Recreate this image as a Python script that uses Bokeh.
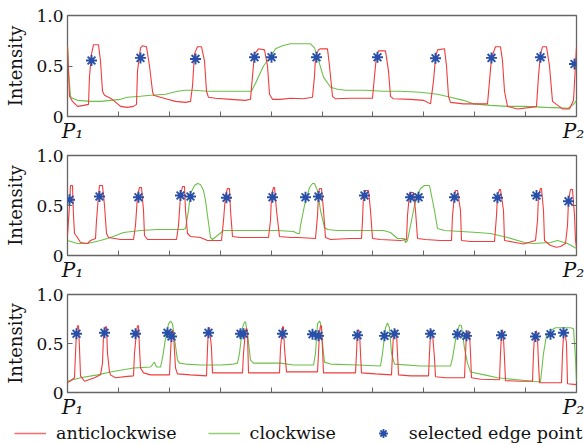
from bokeh.plotting import figure
from bokeh.models import Range1d, FixedTicker, LinearAxis, Legend, LegendItem, Plot
from bokeh.layouts import column
from bokeh.embed import file_html
from bokeh.resources import INLINE

# x: position along the profile P1 -> P2 (sample index 0..509), y: intensity
x_ticks = [50.9, 101.8, 152.7, 203.6, 254.5, 305.4, 356.3, 407.2, 458.1]
y_ticks = [0, 0.5, 1.0]
y_tick_labels = {0: "0", 0.5: "0.5", 1: "1.0"}
end_label_pos = [5, 506]
end_labels = ["P\u2081", "P\u2082"]
series_names = ["anticlockwise", "clockwise", "selected edge point"]

# ---- panel 1 ----
red1_x = [0, 2, 5, 10, 16, 21, 22, 24, 26, 31, 33, 35, 37, 43, 46, 53, 60, 66, 69, 70, 73, 75, 79, 82, 85, 86,
          93, 100, 108, 118, 123, 125, 127, 130, 134, 137, 139, 141, 148, 163, 178, 183, 185, 187, 191, 197, 200,
          202, 205, 213, 223, 236, 245, 247, 248, 251, 253, 260, 262, 265, 268, 283, 305, 307, 309, 311, 318, 321,
          323, 326, 343, 356, 363, 366, 368, 370, 377, 379, 381, 383, 396, 420, 422, 424, 428, 433, 435, 437, 440,
          450, 463, 469, 471, 473, 475, 479, 482, 485, 489, 495, 502, 506, 509]
red1_y = [0.70, 0.20, 0.15, 0.10, 0.11, 0.12, 0.40, 0.62, 0.71, 0.71, 0.55, 0.25, 0.21, 0.18, 0.16, 0.10, 0.09,
          0.10, 0.12, 0.45, 0.68, 0.70, 0.69, 0.50, 0.25, 0.21, 0.19, 0.17, 0.15, 0.14, 0.15, 0.30, 0.62, 0.69,
          0.69, 0.55, 0.25, 0.19, 0.18, 0.17, 0.16, 0.17, 0.40, 0.62, 0.67, 0.66, 0.50, 0.22, 0.17, 0.17, 0.18,
          0.175, 0.19, 0.40, 0.59, 0.66, 0.67, 0.67, 0.50, 0.20, 0.175, 0.18, 0.18, 0.40, 0.60, 0.65, 0.65, 0.45,
          0.20, 0.175, 0.17, 0.16, 0.125, 0.35, 0.58, 0.66, 0.67, 0.50, 0.20, 0.14, 0.125, 0.125, 0.35, 0.58,
          0.69, 0.69, 0.55, 0.25, 0.10, 0.075, 0.09, 0.10, 0.40, 0.62, 0.69, 0.69, 0.50, 0.15, 0.12, 0.075,
          0.075, 0.16, 0.69]
green1_x = [0, 1, 3, 5, 10, 23, 33, 43, 53, 60, 73, 83, 98, 110, 118, 126, 140, 163, 184, 188, 196, 203, 208,
            215, 223, 233, 243, 247, 250, 256, 263, 270, 278, 298, 316, 333, 353, 370, 383, 396, 406, 423, 440,
            458, 478, 493, 500, 506, 509]
green1_y = [0.70, 0.45, 0.20, 0.18, 0.16, 0.15, 0.15, 0.16, 0.17, 0.19, 0.20, 0.21, 0.22, 0.25, 0.26, 0.26,
            0.25, 0.25, 0.25, 0.33, 0.50, 0.59, 0.67, 0.70, 0.72, 0.72, 0.72, 0.68, 0.59, 0.39, 0.29, 0.27, 0.26,
            0.26, 0.25, 0.25, 0.24, 0.22, 0.19, 0.16, 0.125, 0.11, 0.10, 0.10, 0.09, 0.085, 0.08, 0.12, 0.16]
star1_x = [24, 73, 128, 187, 204, 249, 310, 368, 424, 473, 507]
star1_y = [0.554, 0.58, 0.57, 0.587, 0.587, 0.587, 0.587, 0.577, 0.58, 0.587, 0.52]

# ---- panel 2 ----
red2_x = [0, 2, 3, 5, 6, 7, 10, 13, 20, 23, 28, 29, 31, 32, 35, 37, 39, 41, 53, 66, 68, 70, 72, 74, 76, 77, 80,
          93, 109, 111, 113, 115, 117, 118, 120, 123, 133, 140, 154, 156, 158, 160, 162, 163, 165, 173, 201, 203,
          204, 206, 207, 209, 212, 223, 231, 248, 250, 251, 252, 254, 256, 258, 263, 283, 294, 295, 296, 298,
          301, 303, 305, 313, 333, 339, 340, 342, 343, 346, 348, 350, 358, 373, 384, 385, 387, 388, 390, 393,
          394, 403, 423, 427, 429, 430, 432, 433, 436, 437, 448, 456, 468, 470, 471, 473, 474, 476, 477, 483,
          489, 493, 498, 500, 501, 503, 505, 507, 508, 509]
red2_y = [0.20, 0.50, 0.70, 0.70, 0.40, 0.22, 0.18, 0.13, 0.12, 0.15, 0.17, 0.35, 0.60, 0.70, 0.70, 0.50, 0.22,
          0.18, 0.16, 0.16, 0.30, 0.60, 0.68, 0.68, 0.45, 0.20, 0.16, 0.16, 0.16, 0.30, 0.60, 0.69, 0.69, 0.45,
          0.22, 0.19, 0.18, 0.15, 0.15, 0.35, 0.60, 0.67, 0.67, 0.45, 0.19, 0.18, 0.18, 0.35, 0.60, 0.68, 0.68,
          0.45, 0.19, 0.18, 0.18, 0.17, 0.40, 0.60, 0.67, 0.67, 0.45, 0.18, 0.16, 0.17, 0.17, 0.35, 0.60, 0.65,
          0.65, 0.45, 0.17, 0.16, 0.15, 0.16, 0.40, 0.62, 0.63, 0.63, 0.45, 0.17, 0.16, 0.15, 0.15, 0.40, 0.60,
          0.65, 0.65, 0.45, 0.15, 0.14, 0.14, 0.14, 0.40, 0.60, 0.66, 0.66, 0.45, 0.15, 0.13, 0.115, 0.15, 0.35,
          0.60, 0.67, 0.67, 0.45, 0.15, 0.10, 0.083, 0.09, 0.12, 0.30, 0.55, 0.66, 0.66, 0.40, 0.15, 0.08]
green2_x = [0, 10, 20, 33, 43, 56, 73, 90, 116, 118, 121, 123, 127, 130, 133, 136, 138, 140, 143, 145, 150, 156,
            183, 210, 226, 230, 232, 233, 237, 242, 245, 247, 250, 253, 257, 260, 270, 316, 323, 330, 337, 338,
            340, 343, 347, 350, 353, 357, 362, 364, 367, 370, 377, 410, 423, 440, 457, 466, 483, 490, 500, 509]
green2_y = [0.15, 0.12, 0.12, 0.15, 0.18, 0.23, 0.25, 0.26, 0.26, 0.27, 0.45, 0.62, 0.70, 0.72, 0.71, 0.65, 0.55,
            0.40, 0.18, 0.16, 0.20, 0.25, 0.25, 0.25, 0.24, 0.22, 0.22, 0.30, 0.50, 0.68, 0.72, 0.72, 0.65, 0.45,
            0.28, 0.26, 0.25, 0.25, 0.23, 0.17, 0.17, 0.13, 0.15, 0.30, 0.50, 0.60, 0.67, 0.70, 0.70, 0.60, 0.45,
            0.27, 0.25, 0.23, 0.22, 0.18, 0.13, 0.12, 0.13, 0.15, 0.12, 0.07]
star2_x = [2, 32, 71, 113, 123, 159, 205, 238, 251, 297, 343, 351, 387, 430, 469, 501]
star2_y = [0.557, 0.59, 0.583, 0.60, 0.59, 0.577, 0.583, 0.583, 0.59, 0.60, 0.583, 0.583, 0.583, 0.577, 0.60,
           0.543]

# ---- panel 3 ----
red3_x = [0, 3, 7, 8, 9, 10, 11, 12, 13, 17, 27, 33, 35, 36, 38, 39, 40, 42, 43, 48, 60, 66, 67, 69, 70, 71, 72,
          73, 76, 83, 96, 102, 103, 104, 105, 106, 108, 110, 123, 139, 140, 141, 142, 144, 145, 153, 175, 176,
          178, 179, 180, 181, 188, 212, 213, 215, 216, 217, 219, 233, 250, 251, 252, 253, 254, 255, 256, 263,
          283, 288, 289, 290, 291, 292, 293, 294, 308, 324, 325, 326, 328, 329, 330, 331, 343, 361, 362, 363,
          364, 365, 367, 368, 378, 397, 398, 399, 401, 402, 403, 404, 413, 432, 433, 434, 435, 436, 437, 438,
          453, 465, 466, 467, 469, 470, 471, 472, 488, 494, 495, 496, 497, 499, 500, 509]
red3_y = [0.10, 0.12, 0.15, 0.40, 0.62, 0.68, 0.68, 0.45, 0.17, 0.115, 0.15, 0.18, 0.30, 0.58, 0.67, 0.67, 0.40,
          0.21, 0.18, 0.15, 0.165, 0.17, 0.40, 0.62, 0.68, 0.68, 0.45, 0.25, 0.20, 0.18, 0.18, 0.18, 0.40, 0.60,
          0.64, 0.60, 0.25, 0.19, 0.18, 0.17, 0.45, 0.66, 0.66, 0.45, 0.20, 0.20, 0.20, 0.40, 0.63, 0.66, 0.60,
          0.20, 0.20, 0.20, 0.45, 0.67, 0.67, 0.45, 0.21, 0.21, 0.21, 0.40, 0.62, 0.68, 0.68, 0.45, 0.20, 0.20,
          0.20, 0.20, 0.40, 0.62, 0.64, 0.62, 0.40, 0.20, 0.19, 0.18, 0.40, 0.60, 0.64, 0.60, 0.40, 0.18, 0.17,
          0.17, 0.40, 0.60, 0.64, 0.60, 0.35, 0.16, 0.15, 0.15, 0.40, 0.60, 0.63, 0.60, 0.40, 0.15, 0.135, 0.13,
          0.40, 0.60, 0.64, 0.55, 0.35, 0.12, 0.115, 0.115, 0.40, 0.58, 0.63, 0.55, 0.30, 0.10, 0.10, 0.10, 0.40,
          0.58, 0.64, 0.50, 0.09, 0.08]
green3_x = [0, 13, 30, 43, 66, 83, 87, 89, 93, 95, 98, 101, 103, 105, 107, 110, 112, 118, 133, 153, 166, 170,
            172, 175, 177, 178, 180, 183, 186, 193, 213, 226, 246, 248, 250, 252, 253, 255, 257, 263, 290, 313,
            315, 318, 320, 322, 324, 327, 353, 383, 385, 389, 392, 394, 397, 400, 403, 417, 430, 450, 470, 473,
            476, 479, 483, 488, 503, 506, 508, 509]
green3_y = [0.115, 0.15, 0.18, 0.21, 0.25, 0.26, 0.31, 0.26, 0.26, 0.35, 0.55, 0.70, 0.73, 0.70, 0.55, 0.33,
            0.30, 0.29, 0.28, 0.28, 0.29, 0.30, 0.40, 0.66, 0.72, 0.72, 0.60, 0.33, 0.30, 0.30, 0.30, 0.28, 0.28,
            0.40, 0.70, 0.73, 0.71, 0.50, 0.31, 0.29, 0.28, 0.27, 0.40, 0.66, 0.71, 0.66, 0.40, 0.29, 0.27, 0.27,
            0.35, 0.60, 0.69, 0.68, 0.45, 0.30, 0.21, 0.18, 0.15, 0.13, 0.11, 0.11, 0.40, 0.58, 0.63, 0.66, 0.66,
            0.65, 0.35, 0.115]
star3_x = [9, 37, 68, 100, 104, 141, 173, 176, 215, 245, 251, 290, 317, 327, 363, 390, 399, 434, 468, 483, 496]
star3_y = [0.60, 0.61, 0.60, 0.61, 0.571, 0.61, 0.60, 0.60, 0.60, 0.594, 0.578, 0.584, 0.578, 0.60, 0.60, 0.594,
           0.578, 0.584, 0.571, 0.594, 0.61]

RED = "#f03c3c"
GREEN = "#6cc04a"
BLUE = "#2850a8"
FRAME = "#666666"
TEXT = "#111111"
SERIF = "DejaVu Serif"
X_MAX = 509
W = 584
BORDER_L = 67
BORDER_R = 8
LEGEND_H = 23


def panel(rx, ry, gx, gy, sx, sy, top, frame_h, bottom):
    p = figure(width=W, height=top + frame_h + bottom,
               x_range=Range1d(0, X_MAX), y_range=Range1d(0, 1.0),
               output_backend="svg", toolbar_location=None,
               x_axis_location=None, y_axis_location=None,
               min_border_left=BORDER_L, min_border_right=BORDER_R,
               min_border_top=top, min_border_bottom=bottom)
    p.grid.visible = False
    p.outline_line_color = FRAME
    p.outline_line_width = 1.3
    p.background_fill_color = "white"
    p.border_fill_color = "white"

    # bottom: inward tick marks only (as minor ticks, so no tick labels at all)
    xa = LinearAxis(ticker=FixedTicker(ticks=[], minor_ticks=x_ticks),
                    minor_tick_in=5, minor_tick_out=0, minor_tick_line_color=FRAME,
                    major_tick_line_color=None, axis_line_color=None, major_label_standoff=0)
    p.add_layout(xa, "below")

    # end-point names P1 / P2 under the frame
    ea = LinearAxis(ticker=FixedTicker(ticks=end_label_pos),
                    major_label_overrides=dict(zip(end_label_pos, end_labels)),
                    major_tick_line_color=None, minor_tick_line_color=None, axis_line_color=None,
                    major_tick_in=0, major_tick_out=0, major_label_standoff=2,
                    major_label_text_font=SERIF, major_label_text_font_style="italic",
                    major_label_text_font_size="20px", major_label_text_color=TEXT)
    p.add_layout(ea, "below")

    ya = LinearAxis(ticker=FixedTicker(ticks=y_ticks), major_label_overrides=y_tick_labels,
                    major_tick_in=5, major_tick_out=0, minor_tick_line_color=None,
                    major_tick_line_color=FRAME, axis_line_color=None,
                    major_label_text_font=SERIF, major_label_text_font_size="17px",
                    major_label_text_color=TEXT, major_label_standoff=4,
                    axis_label="Intensity", axis_label_text_font=SERIF, axis_label_text_font_size="18px",
                    axis_label_text_font_style="normal", axis_label_text_color=TEXT, axis_label_standoff=7)
    p.add_layout(ya, "left")

    ra = LinearAxis(ticker=FixedTicker(ticks=[], minor_ticks=[0.5]), minor_tick_in=5, minor_tick_out=0,
                    minor_tick_line_color=FRAME, major_tick_line_color=None, axis_line_color=None,
                    major_label_standoff=0)
    p.add_layout(ra, "right")

    p.line(gx, gy, line_color=GREEN, line_width=1.1)
    p.line(rx, ry, line_color=RED, line_width=1.1)
    p.scatter(sx, sy, marker="asterisk", size=11, line_color=BLUE, line_width=1.9)
    return p


p1 = panel(red1_x, red1_y, green1_x, green1_y, star1_x, star1_y, 15, 101, 29)
p2 = panel(red2_x, red2_y, green2_x, green2_y, star2_x, star2_y, 10, 100, 29)
p3 = panel(red3_x, red3_y, green3_x, green3_y, star3_x, star3_y, 10, 101, 26)

# legend strip spanning the full width
lf = figure(frame_width=W, frame_height=LEGEND_H, min_border=0, output_backend="svg", toolbar_location=None,
            x_axis_location=None, y_axis_location=None, x_range=Range1d(0, 1), y_range=Range1d(0, 1))
if "frame_align" in Plot.properties():
    lf.frame_align = False
lf.grid.visible = False
lf.outline_line_color = None
nan = float("nan")
lr = lf.line([nan], [nan], line_color=RED, line_width=1.4, line_alpha=0.75)
lg = lf.line([nan], [nan], line_color=GREEN, line_width=1.4, line_alpha=0.75)
ls = lf.scatter([nan], [nan], marker="asterisk", size=10, line_color=BLUE, line_width=1.8)
legend = Legend(items=[LegendItem(label=series_names[0], renderers=[lr]),
                       LegendItem(label=series_names[1], renderers=[lg]),
                       LegendItem(label=series_names[2], renderers=[ls])],
                location=(14, 0), orientation="horizontal",
                glyph_width=32, glyph_height=22, label_standoff=10, spacing=31,
                padding=0, margin=0, border_line_color=None, background_fill_alpha=0,
                label_text_font=SERIF, label_text_font_size="17.5px", label_text_color=TEXT)
lf.add_layout(legend, "center")

layout = column(p1, p2, p3, lf, spacing=0)
open("out.html", "w").write(file_html(layout, INLINE))
